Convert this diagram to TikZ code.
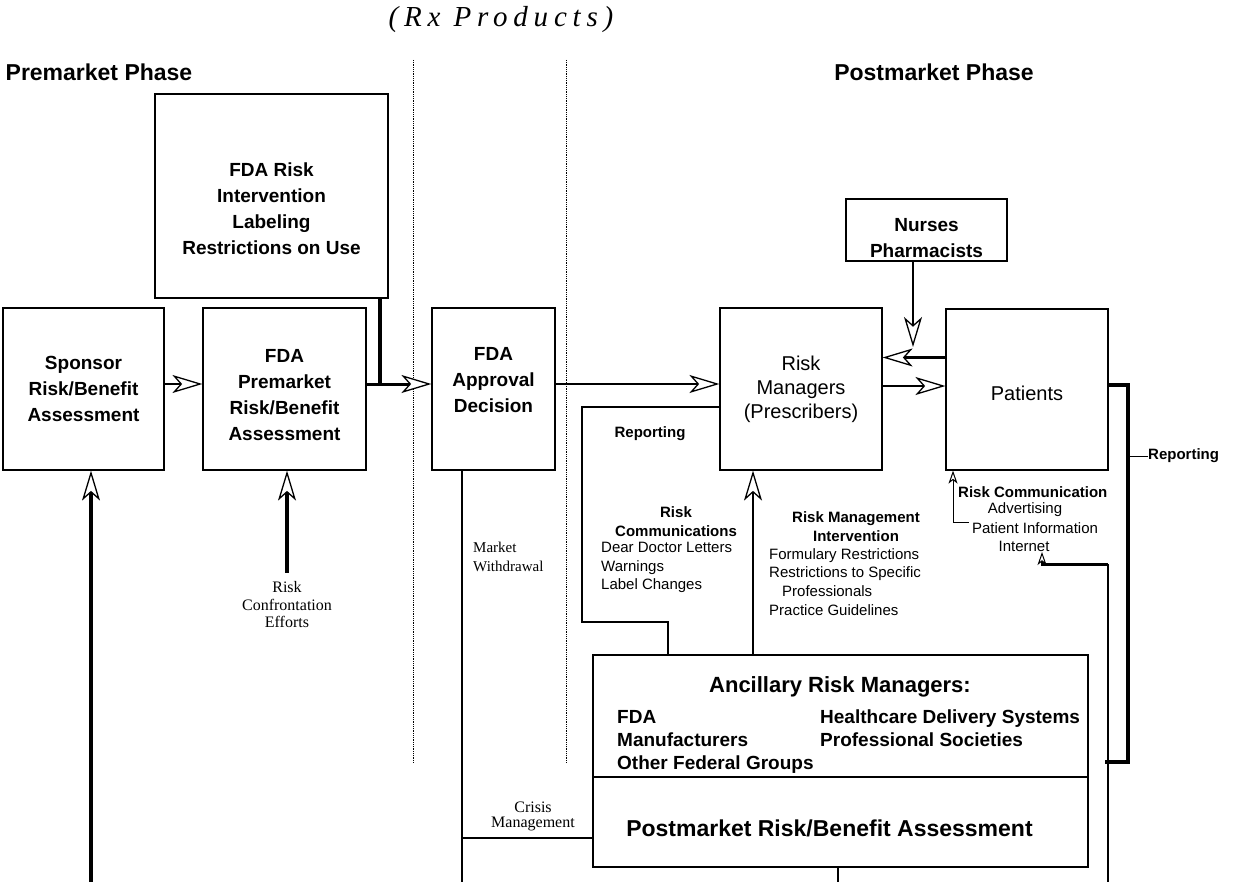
\documentclass[tikz,border=0pt]{standalone}
\usepackage{fontspec}
\setmainfont{Liberation Serif}
\setsansfont{Liberation Sans}
\usetikzlibrary{arrows.meta,calc}

\tikzset{
  box/.style 2 args={draw, line width=1.2pt, inner sep=0pt, minimum width=#1, minimum height=#2},
  boxtxt/.style={font=\sffamily\bfseries\fontsize{19}{26}\selectfont, align=center, inner sep=0pt},
  boxtxtr/.style={font=\sffamily\fontsize{20}{24}\selectfont, align=center, inner sep=0pt},
  hollow/.style={-{Stealth[length=30pt,width=18pt,inset=8pt,fill=white,line width=1.3pt]}},
  smallhollow/.style={-{Stealth[length=13pt,width=9pt,inset=3.5pt,fill=white,line width=1pt]}},
  lbl/.style={font=\sffamily\bfseries\fontsize{15}{19}\selectfont, inner sep=0pt, align=center},
  note/.style={font=\sffamily\fontsize{15}{18.7}\selectfont, inner sep=0pt, align=left},
  serif/.style={font=\fontsize{16}{17.5}\selectfont, inner sep=0pt, align=center},
  anclist/.style={font=\sffamily\bfseries\fontsize{19}{23}\selectfont, inner sep=0pt, align=left}
}

\begin{document}
\begin{tikzpicture}[x=1pt,y=-1pt]
  \useasboundingbox (0,0) rectangle (1233,882);
  \node[font=\sffamily\bfseries\fontsize{23}{26}\selectfont] (pre) at (99,72) {Premarket Phase};
  \node[font=\sffamily\bfseries\fontsize{23}{26}\selectfont] (post) at (934,72) {Postmarket Phase};
  \node[font=\fontsize{29}{30}\selectfont\itshape\addfontfeature{LetterSpace=20}] (rx) at (501,20) {(Rx Products)};
  \draw[densely dotted, line width=0.8pt] (413,60) -- (413,763);
  \draw[densely dotted, line width=0.8pt] (566,60) -- (566,763);

  \node[box={233pt}{204pt}, label={[boxtxt, yshift=-13pt]center:FDA Risk\\Intervention\\Labeling\\Restrictions on Use}] (fdarisk) at (271.5,196) {};
  \node[box={161pt}{162pt}, label={[boxtxt]center:Sponsor\\Risk/Benefit\\Assessment}] (sponsor) at (83.5,389) {};
  \node[box={163pt}{162pt}, label={[boxtxt, yshift=-6pt]center:FDA\\Premarket\\Risk/Benefit\\Assessment}] (fdapre) at (284.5,389) {};
  \node[box={123pt}{162pt}, label={[boxtxt, yshift=9pt]center:FDA\\Approval\\Decision}] (approval) at (493.5,389) {};
  \node[box={162pt}{162pt}, label={[boxtxtr]center:Risk\\Managers\\(Prescribers)}] (rm) at (801,389) {};
  \node[box={162pt}{161pt}, label={[boxtxtr, yshift=-3.5pt]center:Patients}] (patients) at (1027,389.5) {};
  \node[box={161pt}{62pt}, label={[boxtxt, yshift=-8pt]center:Nurses\\Pharmacists}] (nurses) at (926.5,230) {};
  \node[box={495pt}{122pt}] (anc) at (840.5,716) {};
  \node[box={495pt}{90pt}, label={[font=\sffamily\bfseries\fontsize{23}{26}\selectfont, xshift=-11pt, yshift=-6pt]center:Postmarket Risk/Benefit Assessment}] (pmrb) at (840.5,822) {};

  \node[font=\sffamily\bfseries\fontsize{22}{26}\selectfont] (anctitle) at (840,687) {Ancillary Risk Managers:};
  \node[anclist, anchor=north west] (anccol1) at (617,710) {FDA\\Manufacturers\\Other Federal Groups};
  \node[anclist, anchor=north west] (anccol2) at (820,710) {Healthcare Delivery Systems\\Professional Societies};

  \node[lbl] (rep1) at (650,434) {Reporting};
  \node[lbl] (rchead) at (676,521.5) {Risk\\Communications};
  \node[note, anchor=north west] (rclist) at (601,542) {Dear Doctor Letters\\Warnings\\Label Changes};
  \node[lbl] (rmihead) at (856,526.5) {Risk Management\\Intervention};
  \node[note, anchor=north west] (rmilist) at (769,548) {Formulary Restrictions\\Restrictions to Specific\\\hspace*{13pt}Professionals\\Practice Guidelines};
  \node[lbl, anchor=west] (pcrc) at (958,492) {Risk Communication};
  \node[note] (adv) at (1025,510) {Advertising};
  \node[note] (pinfo) at (1035,528) {Patient Information};
  \node[note] (inet) at (1024,546) {Internet};
  \node[lbl, anchor=west] (rep2) at (1148,456) {Reporting};
  \node[serif, font=\fontsize{15}{19}\selectfont, align=left, anchor=west] (mw) at (473,557) {Market\\Withdrawal};
  \node[serif, font=\fontsize{16}{15}\selectfont] (crisislbl) at (533,816) {Crisis\\Management};
  \node[serif, inner ysep=9pt] (conf) at (287,605) {Risk\\Confrontation\\Efforts};

  \coordinate (bottom) at (0,882);
  \coordinate (join) at (380,384);
  \coordinate (repcorner) at (582,622);
  \coordinate (ancup) at ([xshift=-87.5pt]anc.north);
  \coordinate (rmout) at ([yshift=3pt]rm.east);
  \coordinate (patout) at ([yshift=32pt]patients.west);
  \coordinate (nursetip) at (913,347);
  \coordinate (rptbot) at (1128,762);
  \coordinate (netcorner) at (1108,564);
  \coordinate (nettip) at (1042,552);
  \coordinate (pcup) at ([xshift=-74pt]patients.south);
  \coordinate (mwtop) at ([xshift=-31.5pt]approval.south);
  \coordinate (crisis) at ([yshift=-16pt]pmrb.west);
  \coordinate (pmdown) at ([xshift=-2.5pt]pmrb.south);
  \coordinate (spup) at ([xshift=7.5pt]sponsor.south);

  \draw[hollow, line width=2.5pt] ([yshift=5pt]sponsor.east) -- ([yshift=5pt]fdapre.west);
  \draw[hollow, line width=3pt] ([yshift=5pt]fdapre.east) -- ([yshift=5pt]approval.west);
  \draw[line width=3.5pt] (fdarisk.south -| join) -- (join);
  \draw[hollow, line width=2pt] ([yshift=5pt]approval.east) -- ([yshift=5pt]rm.west);
  \draw[line width=1.5pt] ([yshift=-18pt]rm.west) -| (repcorner) -| ([xshift=-172.5pt]anc.north);
  \draw[hollow, line width=2pt] (ancup) -- (ancup |- rm.south);
  \draw[hollow, line width=2.5pt] (rmout) -- (rmout -| patients.west);
  \draw[hollow, line width=2.5pt] (patout) -- (patout -| rm.east);
  \draw[hollow, line width=2pt] (nurses.south -| nursetip) -- (nursetip);
  \draw[line width=4pt] ([yshift=5pt]patients.east) -| (rptbot) -- ++(-23,0);
  \draw[line width=1pt] (rep2.west) -- (rep2.west -| rptbot);
  \draw[line width=2pt] (netcorner |- bottom) -- (netcorner);
  \draw[smallhollow, line width=3pt] (netcorner) -| (nettip);
  \draw[smallhollow, line width=1pt] ([xshift=-3pt]pinfo.north west) -| (pcup);
  \draw[line width=2pt] (mwtop) -- (mwtop |- bottom);
  \draw[line width=1.5pt] (crisis) -- (crisis -| mwtop);
  \draw[line width=1.2pt] (pmdown) -- (pmdown |- bottom);
  \draw[hollow, line width=3.5pt] (spup |- bottom) -- (spup);
  \draw[hollow, line width=4.5pt] (conf.north) -- (conf.north |- fdapre.south);
\end{tikzpicture}
\end{document}
